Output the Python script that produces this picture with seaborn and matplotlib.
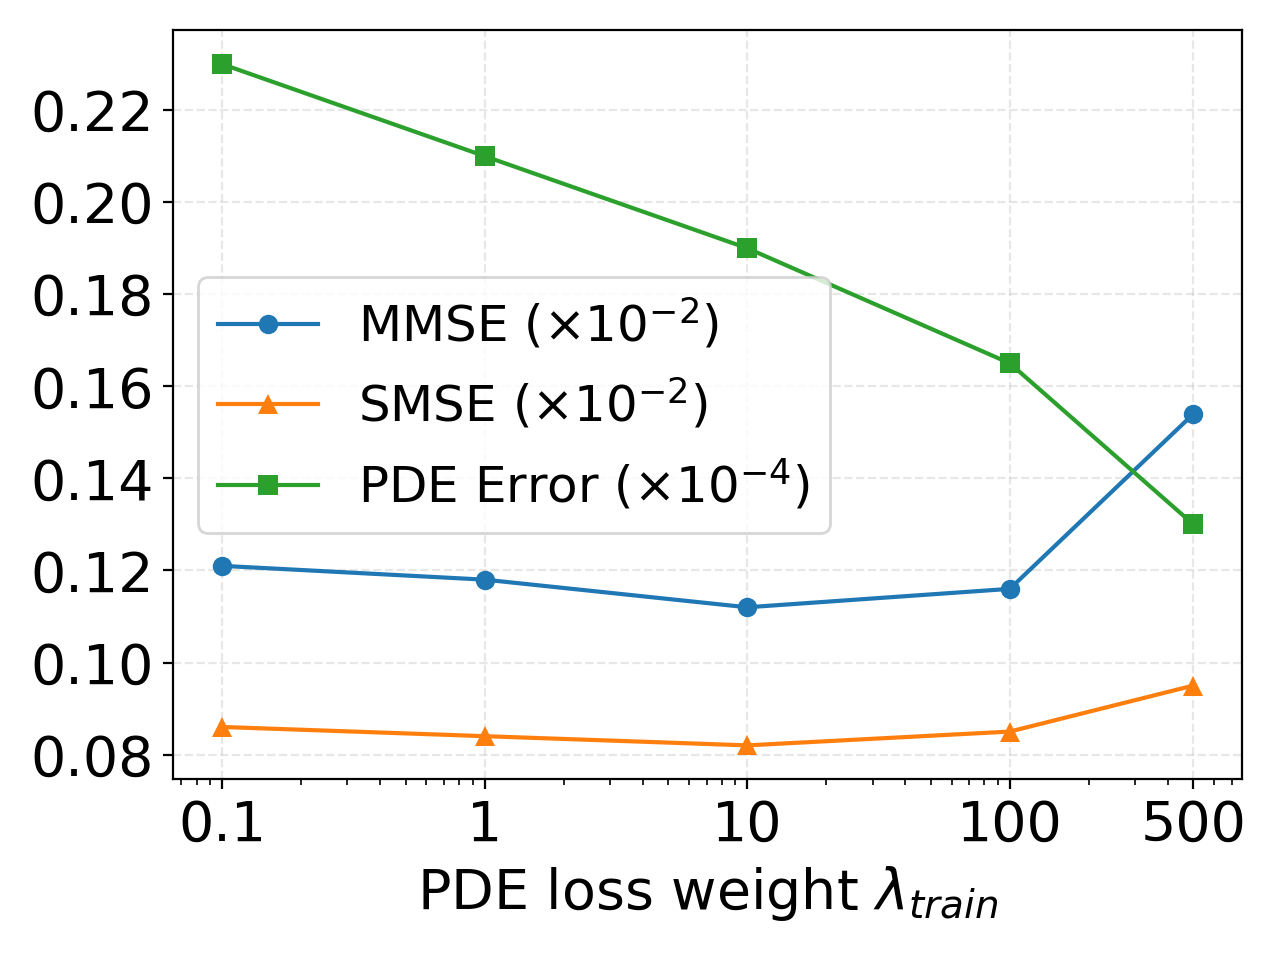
import numpy as np
import pandas as pd
import matplotlib
matplotlib.use("Agg")
import matplotlib.pyplot as plt
from matplotlib.ticker import MultipleLocator
import seaborn as sns

# ==============================
# DATI
# ==============================
lambdas = [0.1, 1, 10, 100, 500]
tick_labels = ["0.1", "1", "10", "100", "500"]

mmse = [0.121, 0.118, 0.112, 0.116, 0.154]
smse = [0.086, 0.084, 0.082, 0.085, 0.095]
pde_err = [0.230, 0.210, 0.190, 0.165, 0.130]

series_names = [
    r"MMSE ($\times 10^{-2}$)",
    r"SMSE ($\times 10^{-2}$)",
    r"PDE Error ($\times 10^{-4}$)",
]

df = pd.DataFrame({
    "lambda": lambdas * 3,
    "value": mmse + smse + pde_err,
    "metric": [series_names[0]] * 5 + [series_names[1]] * 5 + [series_names[2]] * 5,
})

# ==============================
# PLOT
# ==============================
plt.rcParams["font.family"] = ["DejaVu Sans"]

fig, ax = plt.subplots(figsize=(6.4, 4.8))

sns.lineplot(
    data=df,
    x="lambda",
    y="value",
    hue="metric",
    style="metric",
    markers=["o", "^", "s"],
    dashes=False,
    palette=["#1f77b4", "#ff7f0e", "#2ca02c"],
    markersize=7,
    markeredgewidth=0,
    linewidth=1.5,
    ax=ax,
)

ax.set_xscale("log")
ax.set_xticks(lambdas)
ax.set_xticklabels(tick_labels)
ax.yaxis.set_major_locator(MultipleLocator(0.02))
ax.tick_params(axis="both", labelsize=20)

ax.set_xlabel(r"PDE loss weight $\lambda_{train}$", fontsize=20)
ax.set_ylabel("")

ax.grid(True, which="major", linestyle="--", alpha=0.3)

ax.legend(loc="center left", fontsize=18, framealpha=0.8)

plt.tight_layout()
plt.savefig("out.png", dpi=200)
